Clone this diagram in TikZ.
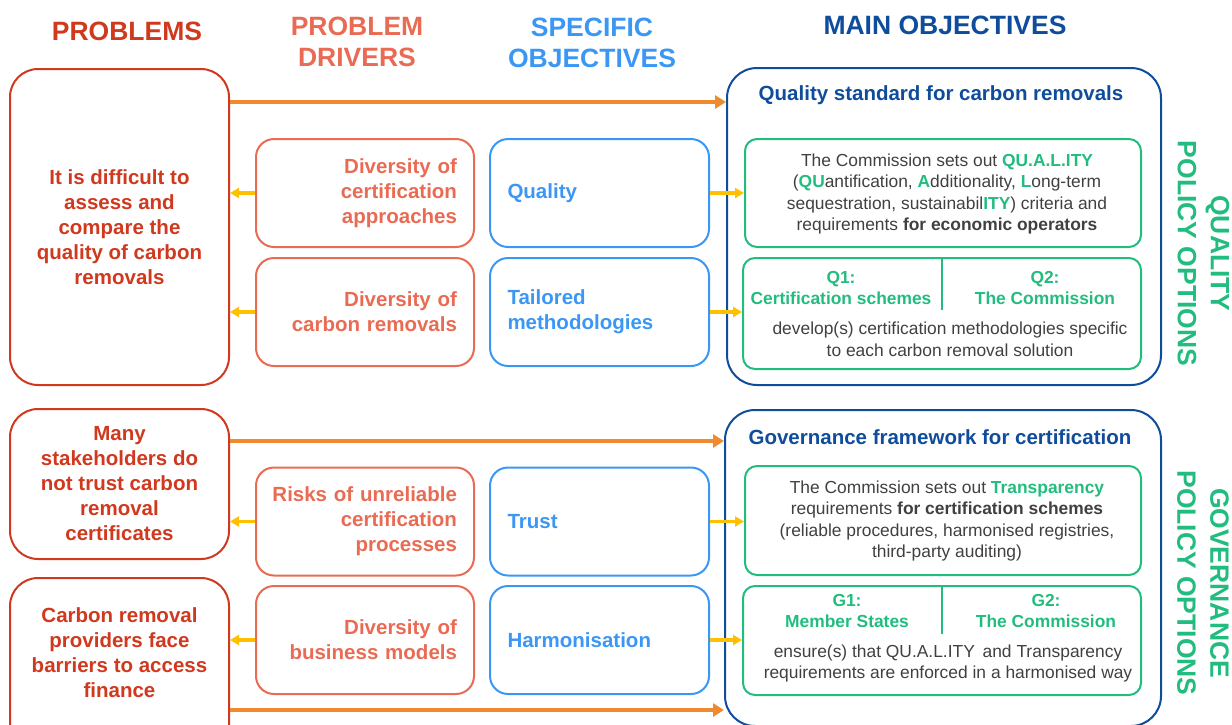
\documentclass[tikz,border=0pt]{standalone}
\usepackage{fontspec}
\setmainfont{Liberation Sans}
\usetikzlibrary{arrows.meta,calc}
\definecolor{probc}{HTML}{D0391E}
\definecolor{drvc}{HTML}{EA6B53}
\definecolor{spc}{HTML}{3B97F3}
\definecolor{navy}{HTML}{0F4C9C}
\definecolor{grn}{HTML}{22BD7E}
\definecolor{orng}{HTML}{EF8A2E}
\definecolor{yel}{HTML}{FFC000}
\definecolor{gtext}{HTML}{404040}
\newcommand\grnb[1]{\textbf{\textcolor{grn}{#1}}}
\newcommand\fullline[1]{\hbox to 184pt{\hss #1}}
\begin{document}
\begin{tikzpicture}[x=1pt,y=-1pt,
  bigfont/.style={font=\bfseries\fontsize{20.5}{25}\selectfont},
  probbox/.style={draw=probc, line width=2pt, rounded corners=28pt, minimum width=219pt, inner sep=0pt, text=probc, align=center, bigfont},
  probtext/.style={text=probc, align=center, inner sep=0pt, bigfont},
  drvbox/.style={draw=drvc, line width=2pt, rounded corners=18pt, minimum width=218pt, minimum height=108pt, text width=184pt, align=right, inner sep=0pt, text=drvc, bigfont},
  specbox/.style={draw=spc, line width=2pt, rounded corners=18pt, minimum width=219pt, minimum height=108pt, text width=184pt, align=left, inner sep=0pt, text=spc, bigfont},
  mainbox/.style={draw=navy, line width=2pt, rounded corners=30pt, inner sep=0pt},
  mtitle/.style={text=navy, inner sep=0pt, bigfont},
  grnbox/.style={draw=grn, line width=2pt, rounded corners=12pt, inner sep=0pt},
  bodytext/.style={text=gtext, align=center, inner sep=0pt, font=\fontsize{17.4}{21.5}\selectfont},
  optlabel/.style={text=grn, align=center, inner sep=0pt, font=\bfseries\fontsize{17.4}{21}\selectfont},
  grnline/.style={draw=grn, line width=2pt},
  header/.style={align=center, inner sep=0pt, font=\bfseries\fontsize{26.5}{31}\selectfont},
  vlab/.style={text=grn, align=center, inner sep=0pt, rotate=-90, font=\bfseries\fontsize{26.5}{33}\selectfont},
  oarrow/.style={draw=orng, line width=4pt, -{Triangle[length=11pt,width=13pt]}},
  yarrow/.style={draw=yel, line width=3.5pt, -{Triangle[length=9pt,width=10pt]}}
]
\useasboundingbox (0,0) rectangle (1232,724);
\clip (0,0) rectangle (1232,724);

% headers
\node[header, text=probc] (h1) at (127,31) {PROBLEMS};
\node[header, text=drvc] (h2) at (357,41.5) {PROBLEM\\DRIVERS};
\node[header, text=spc] (h3) at (592,42.5) {SPECIFIC\\OBJECTIVES};
\node[header, text=navy] (h4) at (945,25) {MAIN OBJECTIVES};

% problems
\node[probbox, minimum height=316pt] (p1) at (119.5,227) {It is difficult to\\assess and\\compare the\\quality of carbon\\removals};
\node[probbox, minimum height=150pt] (p2) at (119.5,484) {Many\\stakeholders do\\not trust carbon\\removal\\certificates};
\node[probbox, minimum height=182pt] (p3) at (119.5,669) {};
\node[probtext] (p3t) at (119.5,652.5) {Carbon removal\\providers face\\barriers to access\\finance};

% drivers
\node[drvbox] (d1) at (365,193) {Diversity of\\certification\\approaches};
\node[drvbox] (d2) at (365,312) {Diversity of\\carbon removals};
\node[drvbox] (d3) at (365,521.5) {\fullline{Risks of unreliable}\\certification\\processes};
\node[drvbox] (d4) at (365,640) {Diversity of\\business models};

% specific objectives
\node[specbox] (s1) at (599.5,193) {Quality};
\node[specbox] (s2) at (599.5,312) {Tailored\\methodologies};
\node[specbox] (s3) at (599.5,521.5) {Trust};
\node[specbox] (s4) at (599.5,640) {Harmonisation};

% main objectives
\node[mainbox, minimum width=434pt, minimum height=317pt] (mq) at (944,226.5) {};
\node[mtitle] (mqt) at (941,95) {Quality standard for carbon removals};
\node[mainbox, minimum width=436pt, minimum height=316pt] (mg) at (943,568) {};
\node[mtitle] (mgt) at (940,437) {Governance framework for certification};

% green boxes (quality)
\node[grnbox, minimum width=396pt, minimum height=108pt] (g1) at (943,193) {};
\node[bodytext] (g1t) at (947,194) {The Commission sets out \grnb{QU.A.L.ITY}\\(\grnb{QU}antification, \grnb{A}dditionality, \grnb{L}ong-term\\sequestration, sustainabil\grnb{ITY}) criteria and\\requirements \textbf{for economic operators}};
\node[grnbox, minimum width=398pt, minimum height=111pt] (g2) at (942,313.5) {};
\node[optlabel] (q1) at (841,288.5) {Q1:\\Certification schemes};
\node[optlabel] (q2) at (1045,288.5) {Q2:\\The Commission};
\coordinate (dq1) at (942,258);
\coordinate (dq2) at (942,310);
\draw[grnline] (dq1) -- (dq2);
\node[bodytext] (g2t) at (950,339.5) {develop(s) certification methodologies specific\\to each carbon removal solution};

% green boxes (governance)
\node[grnbox, minimum width=396pt, minimum height=109pt] (g3) at (943,520.5) {};
\node[bodytext] (g3t) at (947,521) {The Commission sets out \grnb{Transparency}\\requirements \textbf{for certification schemes}\\(reliable procedures, harmonised registries,\\third-party auditing)};
\node[grnbox, minimum width=398pt, minimum height=109pt] (g4) at (942,640.5) {};
\node[optlabel] (gg1) at (847,610.5) {G1:\\Member States};
\node[optlabel] (gg2) at (1046,610.5) {G2:\\The Commission};
\coordinate (dg1) at (942,586);
\coordinate (dg2) at (942,634);
\draw[grnline] (dg1) -- (dg2);
\node[bodytext] (g4t) at (948,663.5) {ensure(s) that QU.A.L.ITY\, and Transparency\\requirements are enforced in a harmonised way};

% vertical labels
\node[vlab] (vq) at (1203.5,253.5) {QUALITY\\POLICY OPTIONS};
\node[vlab] (vg) at (1203,583) {GOVERNANCE\\POLICY OPTIONS};

% orange arrows
\coordinate (o1) at (0,102);
\coordinate (o2) at (0,441);
\coordinate (o3) at (0,710);
\draw[oarrow] (p1.east |- o1) -- (mq.west |- o1);
\draw[oarrow] (p2.east |- o2) -- (mg.west |- o2);
\draw[oarrow] (p3.east |- o3) -- (mg.west |- o3);

% yellow arrows
\draw[yarrow] (d1.west) -- (p1.east |- d1.west);
\draw[yarrow] (d2.west) -- (p1.east |- d2.west);
\draw[yarrow] (d3.west) -- (p2.east |- d3.west);
\draw[yarrow] (d4.west) -- (p3.east |- d4.west);
\draw[yarrow] (s1.east) -- (g1.west |- s1.east);
\draw[yarrow] (s2.east) -- (g2.west |- s2.east);
\draw[yarrow] (s3.east) -- (g3.west |- s3.east);
\draw[yarrow] (s4.east) -- (g4.west |- s4.east);
\end{tikzpicture}
\end{document}
